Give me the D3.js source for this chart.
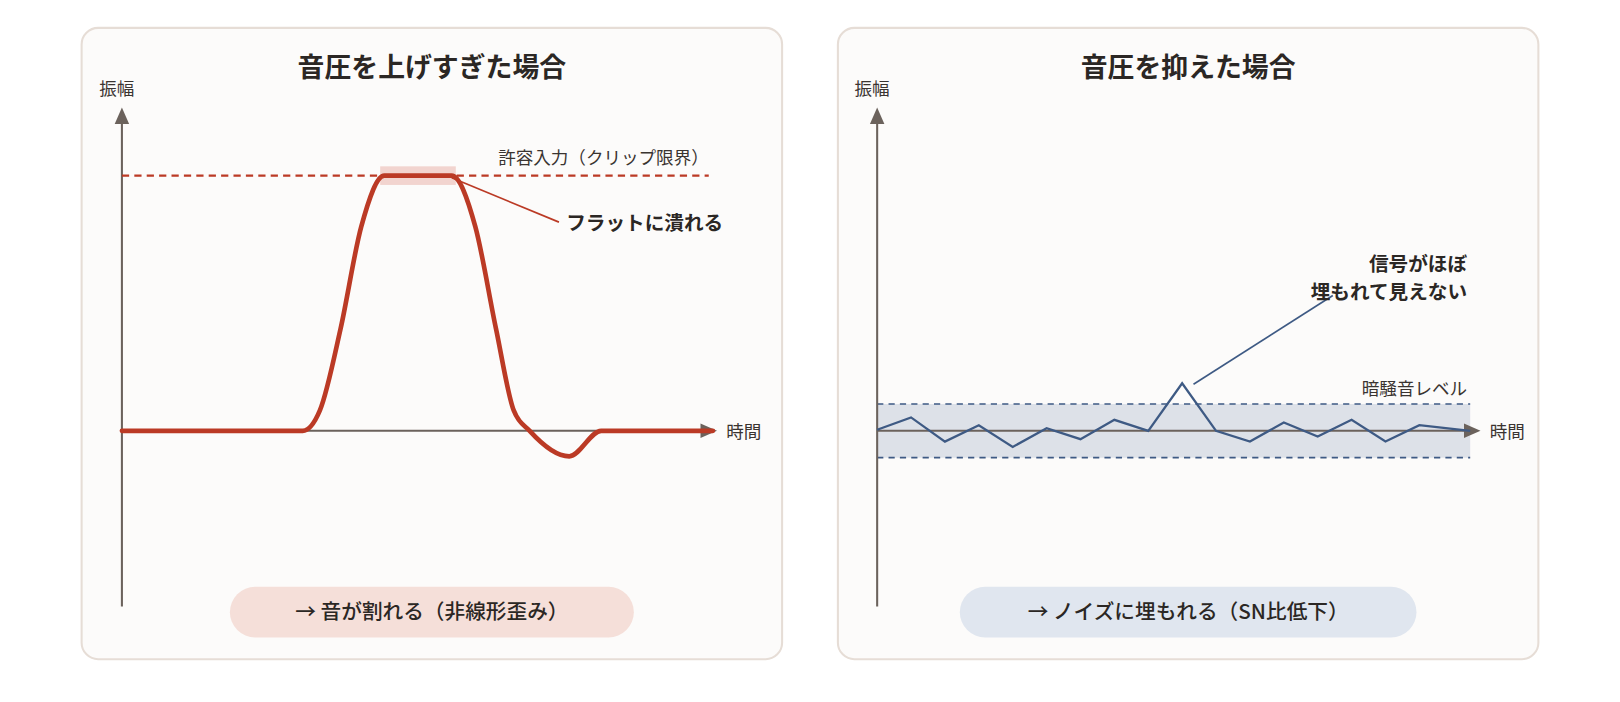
<!DOCTYPE html>
<html><head><meta charset="utf-8">
<script src="https://cdn.jsdelivr.net/npm/d3@7"></script>
<style>body{margin:0;background:#fff}text{font-family:"Noto Sans CJK JP","Noto Sans",sans-serif}</style>
</head><body>
<script>
// DATA
var titles = ["音圧を上げすぎた場合", "音圧を抑えた場合"];
var captions = ["→ 音が割れる（非線形歪み）", "→ ノイズに埋もれる（SN比低下）"];
// clipped signal: time (0..100), amplitude (clip = 1)
var clipT = [0, 30.6, 33.5, 37, 40.5, 44.4, 55.8, 59.8, 63.3, 66.3, 69, 75.7, 81.1, 100];
var clipA = [0, 0, 0.08, 0.4, 0.8, 1, 1, 0.8, 0.4, 0.08, 0, -0.1, 0, 0];
// quiet signal: step index, amplitude (noise level = 1)
var quietT = [0,1,2,3,4,5,6,7,8,9,10,11,12,13,14,15,16,17.5];
var quietA = [0.04,0.5,-0.4,0.21,-0.6,0.1,-0.31,0.41,0,1.77,0,-0.4,0.31,-0.21,0.41,-0.4,0.21,0];

var svg = d3.select("body").append("svg").attr("width",1620).attr("height",702);
var root = svg.append("g").attr("transform","scale(" + (1620/1568) + ")");
var grey = "#6b625c", red = "#bb3a25", blue = "#3e5a84";

function card(x0, i, pill, pillW) {
  var g = root.append("g").attr("transform","translate("+x0+",0)");
  g.append("rect").attr("x",0).attr("y",27).attr("width",678).attr("height",611)
    .attr("rx",16).attr("fill","#fcfbfa").attr("stroke","#e6ddd6").attr("stroke-width",2);
  g.append("text").attr("x",339).attr("y",75).attr("text-anchor","middle")
    .attr("font-size",26).attr("font-weight","bold").attr("fill","#2b2724").text(titles[i]);
  g.append("rect").attr("x",339-pillW/2).attr("y",568).attr("width",pillW).attr("height",49)
    .attr("rx",24.5).attr("fill",pill);
  g.append("text").attr("x",339).attr("y",599).attr("text-anchor","middle")
    .attr("font-size",20).attr("font-weight",500).attr("fill","#2b2724").text(captions[i]);
  return g;
}
function axes(g, ax, ay, xEnd) {
  g.append("line").attr("x1",ax).attr("y1",587).attr("x2",ax).attr("y2",118).attr("stroke",grey).attr("stroke-width",2);
  g.append("path").attr("d","M"+ax+",104L"+(ax-7)+",120L"+(ax+7)+",120Z").attr("fill",grey);
  g.append("line").attr("x1",ax).attr("y1",ay).attr("x2",xEnd-12).attr("y2",ay).attr("stroke",grey).attr("stroke-width",2);
  g.append("path").attr("d","M"+xEnd+","+ay+"L"+(xEnd-16)+","+(ay-7)+"L"+(xEnd-16)+","+(ay+7)+"Z").attr("fill",grey);
  g.append("text").attr("x",ax-22).attr("y",92).attr("font-size",17).attr("fill","#3a3431").text("振幅");
  g.append("text").attr("x",xEnd+9).attr("y",ay+7).attr("font-size",17).attr("fill","#3a3431").text("時間");
}

// LEFT PANEL
var L = card(79, 0, "#f5dfd9", 391);
var lx = d3.scaleLinear().domain([0,100]).range([39,611]);
var ly = d3.scaleLinear().domain([0,1]).range([417,170]);
axes(L, 39, 417, 615);
L.append("rect").attr("x",lx(44.4)-4).attr("y",ly(1)-9).attr("width",lx(55.8)-lx(44.4)+8).attr("height",18).attr("fill","#f2d4cf");
L.append("line").attr("x1",39).attr("x2",607).attr("y1",ly(1)).attr("y2",ly(1))
  .attr("stroke",red).attr("stroke-width",2).attr("stroke-dasharray","7,5");
L.append("text").attr("x",607).attr("y",ly(1)-11).attr("text-anchor","end").attr("font-size",17).attr("fill","#3a3431").text("許容入力（クリップ限界）");
L.append("path").datum(d3.range(clipT.length))
  .attr("d", d3.line().x(function(j){return lx(clipT[j]);}).y(function(j){return ly(clipA[j]);}).curve(d3.curveMonotoneX))
  .attr("fill","none").attr("stroke",red).attr("stroke-width",4.5).attr("stroke-linecap","round");
L.append("line").attr("x1",lx(55.8)).attr("y1",ly(1)+2).attr("x2",462).attr("y2",215).attr("stroke",red).attr("stroke-width",1.6);
L.append("text").attr("x",469).attr("y",223).attr("font-size",19).attr("font-weight","bold").attr("fill","#2b2724").text("フラットに潰れる");

// RIGHT PANEL
var R = card(811, 1, "#e0e6ef", 442);
var rx = d3.scaleLinear().domain([0,17.5]).range([38,612]);
var ry = d3.scaleLinear().domain([0,1]).range([417,391]);
R.append("rect").attr("x",38).attr("y",ry(1)).attr("width",612-38).attr("height",ry(-1)-ry(1)).attr("fill","#dde1e8");
[1,-1].forEach(function(v){
  R.append("line").attr("x1",38).attr("x2",612).attr("y1",ry(v)).attr("y2",ry(v))
    .attr("stroke",blue).attr("stroke-width",1.6).attr("stroke-dasharray","6,5");
});
axes(R, 38, 417, 622);
R.append("path").datum(d3.range(quietT.length))
  .attr("d", d3.line().x(function(j){return rx(quietT[j]);}).y(function(j){return ry(quietA[j]);}))
  .attr("fill","none").attr("stroke",blue).attr("stroke-width",2.2);
R.append("text").attr("x",609).attr("y",ry(1)-9).attr("text-anchor","end").attr("font-size",17).attr("fill","#3a3431").text("暗騒音レベル");
R.append("line").attr("x1",rx(9)+11).attr("y1",ry(1.77)+1).attr("x2",479).attr("y2",286).attr("stroke",blue).attr("stroke-width",1.6);
R.append("text").attr("x",609).attr("y",262).attr("text-anchor","end").attr("font-size",19).attr("font-weight","bold").attr("fill","#2b2724").text("信号がほぼ");
R.append("text").attr("x",609).attr("y",289).attr("text-anchor","end").attr("font-size",19).attr("font-weight","bold").attr("fill","#2b2724").text("埋もれて見えない");
</script>
</body></html>
